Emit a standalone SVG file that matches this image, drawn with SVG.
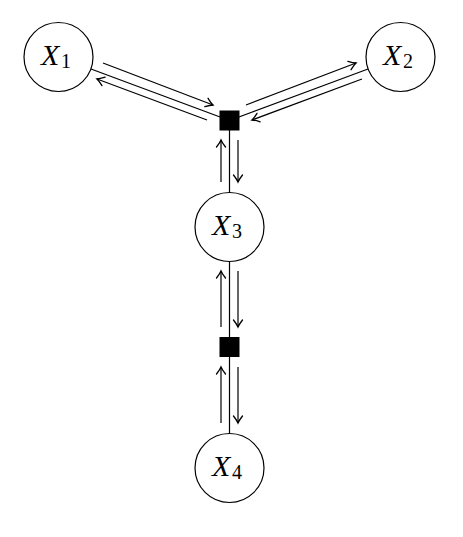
<svg xmlns="http://www.w3.org/2000/svg" width="463" height="537" viewBox="0 0 463 537">
<style>
.n{fill:#fff;stroke:#000;stroke-width:1.2}
.f{fill:#000;stroke:#000;stroke-width:1}
.e{stroke:#000;stroke-width:1.2;fill:none}
.a{stroke:#000;stroke-width:1.2;fill:none;marker-end:url(#ah)}
.t{font-family:"Liberation Serif","DejaVu Serif",serif;font-style:italic;font-size:30px}
.s{font-family:"Liberation Serif","DejaVu Serif",serif;font-style:normal;font-size:20px}
</style>
<defs>
<marker id="ah" markerUnits="userSpaceOnUse" markerWidth="14" markerHeight="14" viewBox="-9 -7 11 14" refX="0" refY="0" orient="auto">
<path d="M-7,-4.5 Q-2.5,-1 0,0 Q-2.5,1 -7,4.5" fill="none" stroke="#000" stroke-width="1.3" stroke-linecap="round"/>
</marker>
</defs>
<rect width="463" height="537" fill="#fff"/>
<g id="connectors">
<line class="e" x1="91" y1="69" x2="229.5" y2="120.5"/>
<line class="e" x1="368" y1="69" x2="229.5" y2="120.5"/>
<line class="e" x1="229.5" y1="120.5" x2="229.5" y2="192"/>
<line class="e" x1="229.5" y1="262" x2="229.5" y2="433"/>
<line class="a" x1="103" y1="63" x2="213" y2="105"/>
<line class="a" x1="207" y1="120" x2="97" y2="79"/>
<line class="a" x1="246" y1="105" x2="356" y2="63"/>
<line class="a" x1="362" y1="79" x2="252" y2="120"/>
<line class="a" x1="221" y1="182" x2="221" y2="140"/>
<line class="a" x1="238" y1="140" x2="238" y2="182"/>
<line class="a" x1="221" y1="327" x2="221" y2="271"/>
<line class="a" x1="238" y1="271" x2="238" y2="327"/>
<line class="a" x1="221" y1="423" x2="221" y2="367"/>
<line class="a" x1="238" y1="367" x2="238" y2="423"/>
</g>
<g id="X1"><circle class="n" cx="58.5" cy="57" r="34.5"/><text x="41" y="65" class="t">X</text><text x="61" y="67.5" class="s">1</text></g>
<g id="X2"><circle class="n" cx="400.5" cy="57" r="34.5"/><text x="383" y="65" class="t">X</text><text x="403" y="67.5" class="s">2</text></g>
<g id="X3"><circle class="n" cx="229.5" cy="227" r="34.5"/><text x="212" y="235" class="t">X</text><text x="232" y="237.5" class="s">3</text></g>
<g id="X4"><circle class="n" cx="229.5" cy="468" r="34.5"/><text x="212" y="476" class="t">X</text><text x="232" y="478.5" class="s">4</text></g>
<g id="F1"><rect class="f" x="220" y="111" width="19" height="19"/></g>
<g id="F2"><rect class="f" x="220" y="337.5" width="19" height="19"/></g>
</svg>
